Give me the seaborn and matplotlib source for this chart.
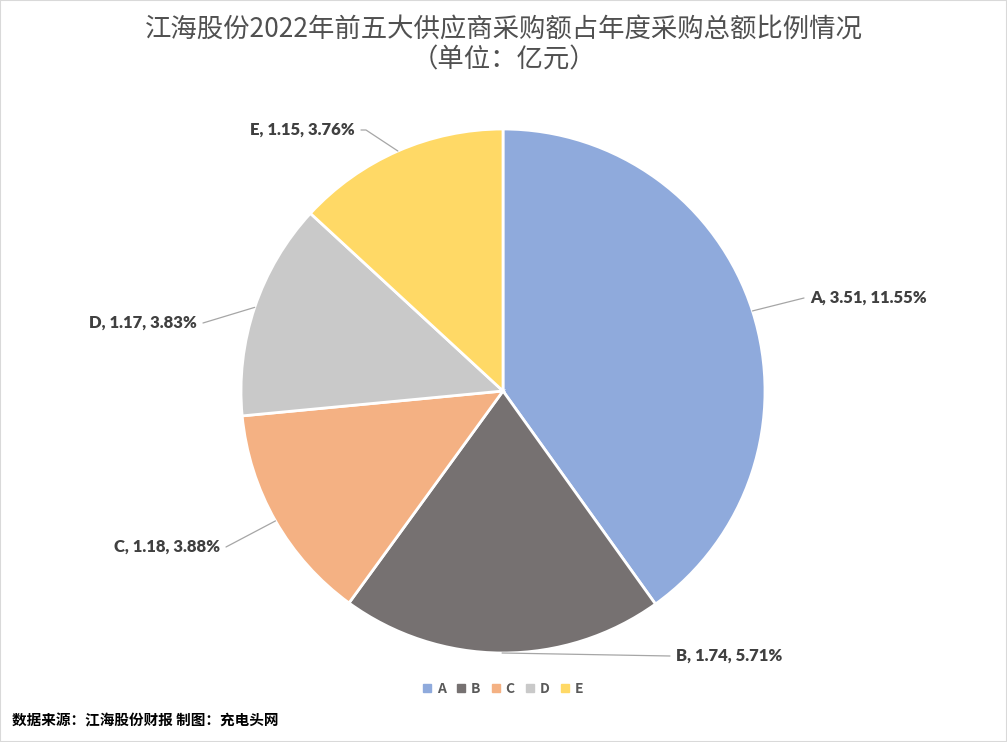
import numpy as np
import seaborn as sns
import matplotlib.pyplot as plt
from matplotlib.lines import Line2D
from matplotlib.patches import Rectangle

# data
categories = ["A", "B", "C", "D", "E"]
amounts = [3.51, 1.74, 1.18, 1.17, 1.15]
shares = ["11.55%", "5.71%", "3.88%", "3.83%", "3.76%"]
colors = ["#8FAADC", "#767171", "#F4B183", "#C9C9C9", "#FFD966"]

sns.set_theme(style="white")
plt.rcParams['font.family'] = ['Noto Sans CJK SC', 'DejaVu Sans']

W, H = 1007, 742
fig = plt.figure(figsize=(W / 100, H / 100), dpi=100)
ax = fig.add_axes([0, 0, 1, 1])

# pie in pixel-like coordinates (y up)
cx, cy, r = 503, H - 391, 262
wedges, _ = ax.pie(
    amounts,
    colors=colors,
    startangle=90,
    counterclock=False,
    center=(cx, cy),
    radius=r,
    wedgeprops=dict(edgecolor="white", linewidth=2),
)
ax.set_xlim(0, W)
ax.set_ylim(0, H)
ax.set_aspect("equal")
ax.axis("off")

# label anchors (x, y from top, alignment)
label_pos = [
    (810, 298, "left"),
    (676, 656, "left"),
    (220, 547, "right"),
    (197, 323, "right"),
    (355, 130, "right"),
]

for w, cat, amt, pct, (lx, ly, ha) in zip(wedges, categories, amounts, shares, label_pos):
    mid = np.deg2rad((w.theta1 + w.theta2) / 2)
    ex, ey = cx + r * np.cos(mid), cy + r * np.sin(mid)
    ly = H - ly
    gap = 6 if ha == "left" else -6
    if cat == "E":
        ax.plot([ex, lx - gap + 5, lx - gap], [ey, ly, ly], color="#A6A6A6", lw=0.9)
    else:
        ax.plot([ex, lx - gap], [ey, ly], color="#A6A6A6", lw=0.9)
    ax.text(lx, ly, f"{cat}, {amt:.2f}, {pct}", ha=ha, va="center",
            fontsize=12, fontweight="heavy", color="#404040",
            family=['Lato', 'Noto Sans CJK SC'])

fig.text(0.5, 1 - 30 / H, "江海股份2022年前五大供应商采购额占年度采购总额比例情况",
         ha="center", va="center", fontsize=19, color="#505050")
fig.text(0.5, 1 - 60 / H, "（单位：亿元）",
         ha="center", va="center", fontsize=19, color="#505050")

handles = [Line2D([], [], marker="s", linestyle="", markersize=6,
                  markerfacecolor=c, markeredgecolor=c) for c in colors]
leg = fig.legend(handles, categories, loc="center", ncol=5, frameon=False,
                 bbox_to_anchor=(503 / W, 1 - 689 / H), handlelength=0.6,
                 handletextpad=0.4, columnspacing=0.8, fontsize=10)
for t in leg.get_texts():
    t.set_color("#595959")
    t.set_fontweight("bold")

fig.text(12 / W, 1 - 720 / H, "数据来源：江海股份财报 制图：充电头网",
         ha="left", va="center", fontsize=10.5, fontweight="bold", color="black")

fig.patches.append(Rectangle((0, 0), 1, 1, transform=fig.transFigure,
                             fill=False, edgecolor="#D9D9D9", linewidth=1.5))

fig.savefig("out.png", dpi=100, facecolor="white")
